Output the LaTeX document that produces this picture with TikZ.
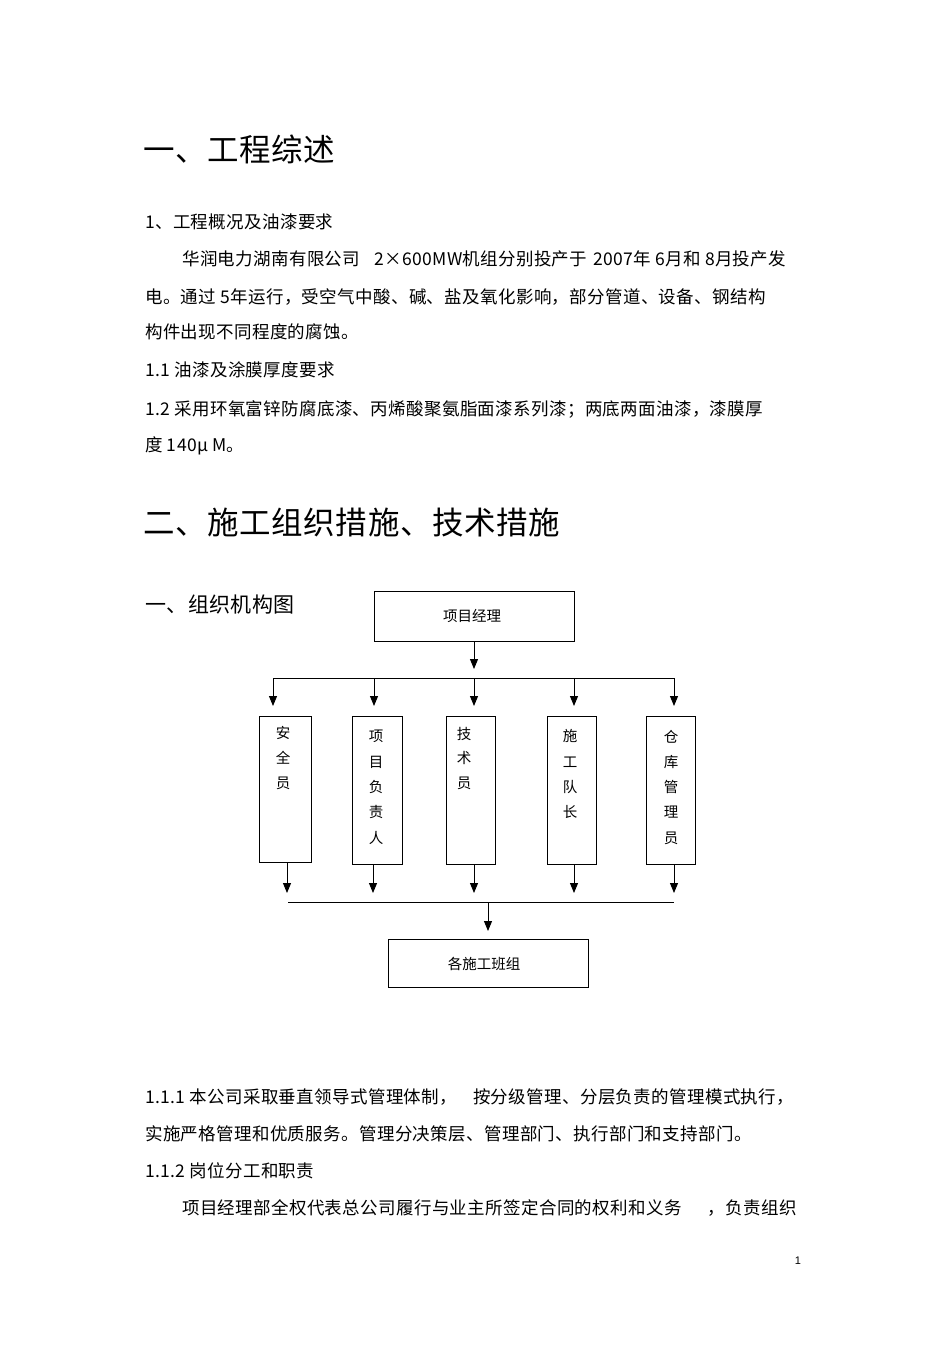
\documentclass[tikz,border=0pt]{standalone}
\usepackage{fontspec}
\setmainfont{Liberation Sans}
\newfontfamily\cjk[LetterSpace=2]{Noto Sans CJK SC}
\newfontfamily\cjkc{Noto Sans CJK SC}
\usetikzlibrary{arrows.meta}
\begin{document}
\begin{tikzpicture}[x=1pt,y=-1pt,
  txt/.style={anchor=west,inner sep=0pt,font=\cjk\fontsize{17.5}{17.5}\selectfont},
  hd/.style={anchor=west,inner sep=0pt,font=\cjk\fontsize{31.5}{31.5}\selectfont},
  box/.style={draw,line width=0.9pt,inner sep=0pt},
  ch/.style={inner sep=0pt,font=\cjkc\fontsize{14.5}{14.5}\selectfont},
  arr/.style={line width=1pt,-{Triangle[width=8pt,length=10pt]}},
  ln/.style={line width=0.9pt}]
\useasboundingbox (0,0) rectangle (950,1345);
\fill[white] (0,0) rectangle (950,1345);
\node[hd] (h1) at (143,149) {一、工程综述};
\node[txt] (t1) at (145,222) {1、工程概况及油漆要求};
\node[txt] (t2) at (182,259) {华润电力湖南有限公司\hspace{14pt}2×600MW机组分别投产于\hspace{6pt}2007年 6月和 8月投产发};
\node[txt] (t3) at (145,297) {电。通过 5年运行，受空气中酸、碱、盐及氧化影响，部分管道、设备、钢结构};
\node[txt] (t4) at (145,332) {构件出现不同程度的腐蚀。};
\node[txt] (t5) at (145,370) {1.1 油漆及涂膜厚度要求};
\node[txt] (t6) at (145,409) {1.2 采用环氧富锌防腐底漆、丙烯酸聚氨脂面漆系列漆；两底两面油漆，漆膜厚};
\node[txt] (t7) at (145,446) {度 140μ M。};
\node[hd] (h2) at (143,523) {二、施工组织措施、技术措施};
\node[txt,font=\cjk\fontsize{21}{21}\selectfont] (t8) at (145,605) {一、组织机构图};
% chart
\draw[box] (374,591) rectangle (574,641);
\node[ch] (pm) at (472,616) {项目经理};
\coordinate (pmb) at (474,641);
\coordinate (pmj) at (474,669);
\draw[arr] (pmb) -- (pmj);
\coordinate (hl) at (273,678); \coordinate (hr) at (674,678);
\draw[ln] (hl) -- (hr);
\foreach \x in {273,374,474,574,674} {\draw[arr] (\x,678) -- (\x,706);}
\draw[box] (259,716) rectangle (311,862);
\draw[box] (352,716) rectangle (402,864);
\draw[box] (446,716) rectangle (495,864);
\draw[box] (547,716) rectangle (596,864);
\draw[box] (646,716) rectangle (695,864);
\node[ch] (a1) at (283,733) {安}; \node[ch] (a2) at (283,758) {全}; \node[ch] (a3) at (283,783) {员};
\node[ch] (b1) at (376,736) {项}; \node[ch] (b2) at (376,762) {目}; \node[ch] (b3) at (376,787) {负}; \node[ch] (b4) at (376,812) {责}; \node[ch] (b5) at (376,838) {人};
\node[ch] (c1) at (464,734) {技}; \node[ch] (c2) at (464,758) {术}; \node[ch] (c3) at (464,783) {员};
\node[ch] (d1) at (570,736) {施}; \node[ch] (d2) at (570,762) {工}; \node[ch] (d3) at (570,787) {队}; \node[ch] (d4) at (570,812) {长};
\node[ch] (e1) at (671,737) {仓}; \node[ch] (e2) at (671,762) {库}; \node[ch] (e3) at (671,787) {管}; \node[ch] (e4) at (671,812) {理}; \node[ch] (e5) at (671,838) {员};
\draw[arr] (287,862) -- (287,893);
\foreach \x in {373,474,574,674} {\draw[arr] (\x,864) -- (\x,893);}
\coordinate (bl) at (288,902); \coordinate (br) at (674,902);
\draw[ln] (bl) -- (br);
\draw[arr] (488,902) -- (488,931);
\draw[box] (388,939) rectangle (588,987);
\node[ch] (tm) at (484,964) {各施工班组};
\node[txt] (s1) at (145,1097) {1.1.1 本公司采取垂直领导式管理体制，\hspace{16pt}按分级管理、分层负责的管理模式执行，};
\node[txt] (s2) at (145,1134) {实施严格管理和优质服务。管理分决策层、管理部门、执行部门和支持部门。};
\node[txt] (s3) at (145,1171) {1.1.2 岗位分工和职责};
\node[txt] (s4) at (182,1208) {项目经理部全权代表总公司履行与业主所签定合同的权利和义务\hspace{26pt}，负责组织};
\node[inner sep=0pt,font=\fontsize{11}{11}\selectfont] (pg) at (798,1261) {1};
\end{tikzpicture}
\end{document}
